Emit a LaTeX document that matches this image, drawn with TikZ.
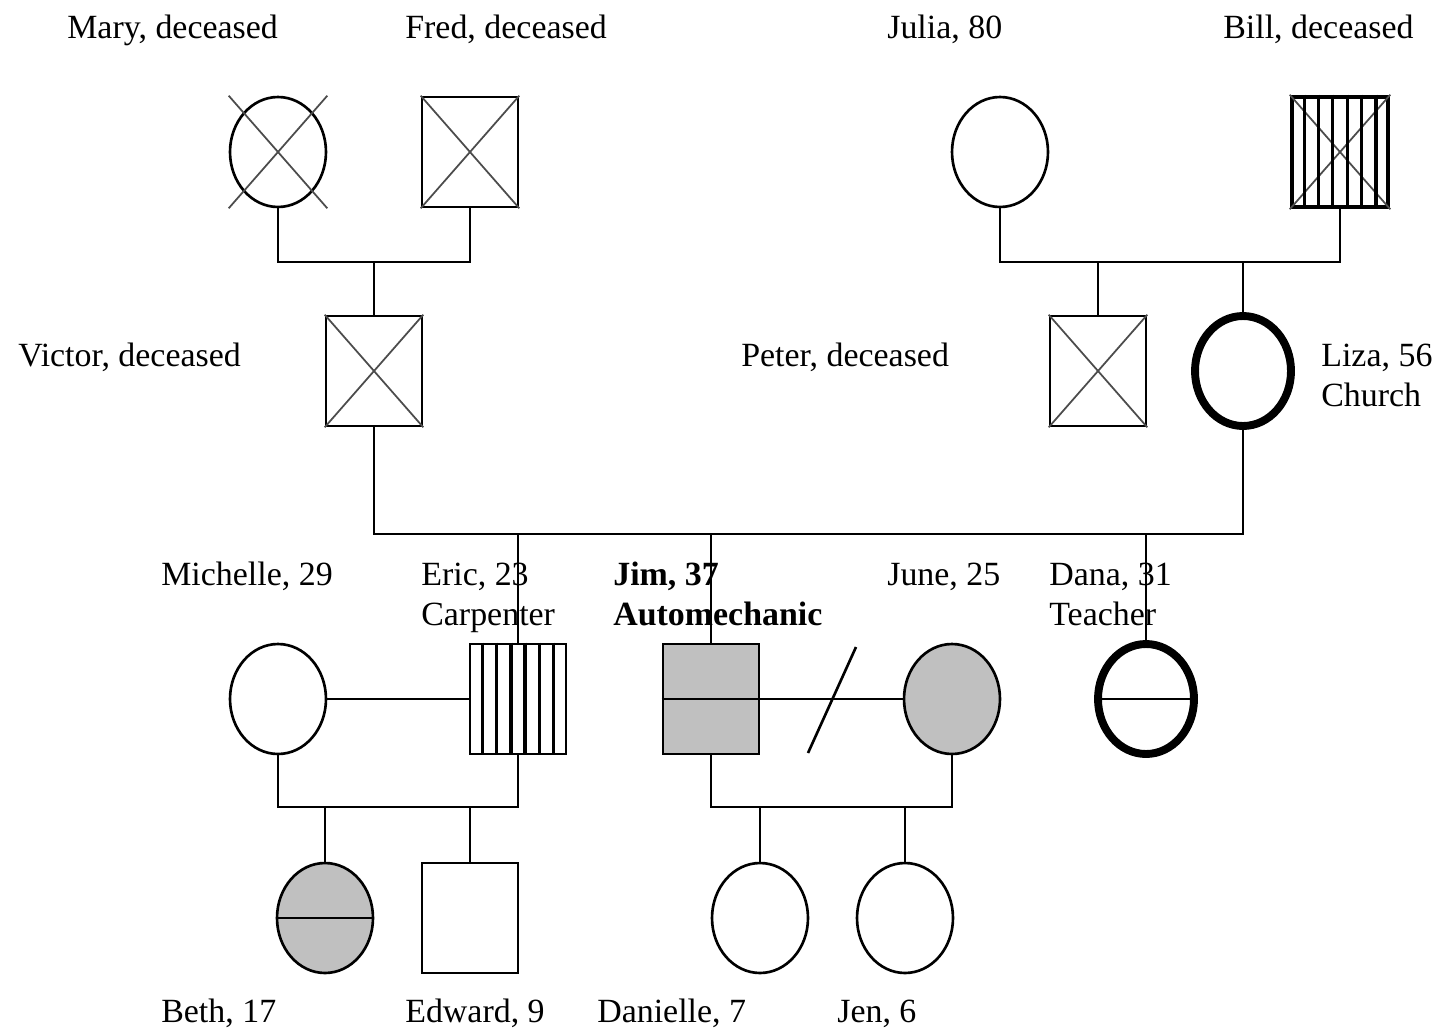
\documentclass[tikz,border=0pt]{standalone}
\usepackage{fontspec}
\setmainfont{Liberation Serif}
\usepackage{tikz}
\usetikzlibrary{shapes.geometric,calc}
\definecolor{affected}{RGB}{192,192,192}

\begin{document}
\begin{tikzpicture}[x=0.02cm, y=-0.02cm, line width=1.5pt,
        male/.style={draw, rectangle, minimum width=1.92cm, minimum height=2.2cm, fill=white},
        female/.style={draw, ellipse, minimum width=1.92cm, minimum height=2.2cm, fill=white},
        carrier/.style={line width=4.5pt},
        pname/.style={anchor=base west, inner sep=0pt, font=\fontsize{19.3}{22}\selectfont},
        cross/.style={line width=1pt, black!70},
        hatch/.style={line width=1.8pt}]
        \useasboundingbox (0, 0) rectangle (1439, 1031);

        % Names and ages
        \node[pname] (tmary) at (66, 38) {Mary, deceased};
        \node[pname] (tfred) at (404, 38) {Fred, deceased};
        \node[pname] (tjulia) at (886, 38) {Julia, 80};
        \node[pname] (tbill) at (1222, 38) {Bill, deceased};
        \node[pname] (tvictor) at (17, 366) {Victor, deceased};
        \node[pname] (tpeter) at (740, 366) {Peter, deceased};
        \node[pname] (tliza) at (1320, 366) {Liza, 56};
        \node[pname] (tliza2) at (1320, 406) {Church};
        \node[pname] (tmichelle) at (160, 585) {Michelle, 29};
        \node[pname] (teric) at (420, 585) {Eric, 23};
        \node[pname] (teric2) at (420, 625) {Carpenter};
        \node[pname, font=\fontsize{19.3}{22}\selectfont\bfseries] (tjim) at (612, 585) {Jim, 37};
        \node[pname, font=\fontsize{19.3}{22}\selectfont\bfseries] (tjim2) at (612, 625) {Automechanic};
        \node[pname] (tjune) at (886, 585) {June, 25};
        \node[pname] (tdana) at (1048, 585) {Dana, 31};
        \node[pname] (tdana2) at (1048, 625) {Teacher};
        \node[pname] (tbeth) at (160, 1022) {Beth, 17};
        \node[pname] (tedward) at (404, 1022) {Edward, 9};
        \node[pname] (tdanielle) at (596, 1022) {Danielle, 7};
        \node[pname] (tjen) at (836, 1022) {Jen, 6};

        % Grandparents
        \node[female] (mary) at (278, 152) {};
        \node[male] (fred) at (470, 152) {};
        \node[female] (julia) at (1000, 152) {};
        \node[male, line width=2.6pt] (bill) at (1340, 152) {};

        % Parents
        \node[male] (victor) at (374, 371) {};
        \node[male] (peter) at (1098, 371) {};
        \node[female, carrier] (liza) at (1243, 371) {};

        % Children
        \node[female] (michelle) at (278, 699) {};
        \node[male] (eric) at (518, 699) {};
        \node[male, fill=affected] (jim) at (711, 699) {};
        \node[female, fill=affected] (june) at (952, 699) {};
        \node[female, carrier] (dana) at (1146, 699) {};

        % Grandchildren
        \node[female, fill=affected] (beth) at (325, 918) {};
        \node[male] (edward) at (470, 918) {};
        \node[female] (danielle) at (760, 918) {};
        \node[female] (jen) at (905, 918) {};

        % Deceased
        \foreach \p in {mary, fred, victor, peter, bill} {
            \draw[cross] (\p.west |- \p.north) -- (\p.east |- \p.south);
            \draw[cross] (\p.west |- \p.south) -- (\p.east |- \p.north);
        }

        % Hatching
        \foreach \p in {eric, bill}
            \foreach \k in {1,...,6}
                \draw[hatch] ($(\p.north west)!\k/7!(\p.north east)$) -- ($(\p.south west)!\k/7!(\p.south east)$);

        % Half lines
        \draw (jim.west) -- (jim.east);
        \draw (dana.west) -- (dana.east);
        \draw (beth.west) -- (beth.east);

        % Marriages and descent
        \coordinate (mf) at (374, 262);
        \draw (mary.south) |- (mf) -| (fred.south);
        \draw (mf) -- (victor.north);

        \coordinate (jb) at (1098, 262);
        \draw (julia.south) |- (jb) -| (bill.south);
        \draw (jb) -- (peter.north);
        \draw (liza.north) -- (liza.north |- jb);

        \coordinate (vl) at (711, 534);
        \draw (victor.south) |- (vl) -| (liza.south);
        \draw (vl) -- (jim.north);
        \draw (eric.north) -- (eric.north |- vl);
        \draw (dana.north) -- (dana.north |- vl);

        \draw (michelle.east) -- (eric.west);
        \coordinate (me) at (470, 807);
        \draw (michelle.south) |- (me) -| (eric.south);
        \draw (me) -- (edward.north);
        \draw (beth.north) -- (beth.north |- me);

        \draw (jim.east) -- (june.west);
        \draw (808, 753) -- (856, 647);
        \coordinate (jj) at (760, 807);
        \draw (jim.south) |- (jj) -| (june.south);
        \draw (jj) -- (danielle.north);
        \draw (jen.north) -- (jen.north |- jj);
    \end{tikzpicture}
\end{document}
